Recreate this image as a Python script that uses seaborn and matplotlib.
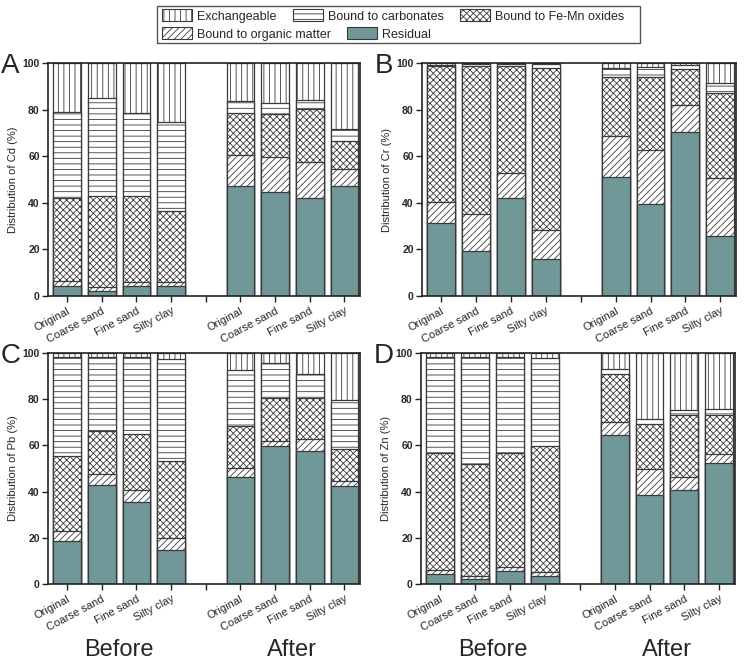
import matplotlib
matplotlib.use("Agg")
import matplotlib.pyplot as plt
import matplotlib.transforms as mtransforms
from matplotlib.patches import Patch, Rectangle
import numpy as np
import pandas as pd
import seaborn as sns

# ---------------- data (percent of each fraction) ----------------
samples = ["Original", "Coarse sand", "Fine sand", "Silty clay"]
stages = ["Before", "After"]
metals = ["Cd", "Cr", "Pb", "Zn"]
panel_letters = ["A", "B", "C", "D"]
fractions = ["Residual", "Bound to organic matter", "Bound to Fe-Mn oxides",
             "Bound to carbonates", "Exchangeable"]  # bottom -> top

# bar order: Before (Original, Coarse, Fine, Silty), After (Original, Coarse, Fine, Silty)
cd_residual = [4.3, 2.2, 4.3, 4.3, 47.3, 44.7, 42.2, 47.1]
cd_organic = [2.2, 1.5, 1.9, 1.7, 13.3, 14.8, 15.1, 7.5]
cd_femn = [35.6, 39.3, 36.6, 30.6, 18.1, 18.7, 22.9, 11.8]
cd_carbonate = [36.9, 41.9, 35.9, 38.1, 4.9, 4.6, 3.9, 5.2]
cd_exchangeable = [21.0, 15.1, 21.3, 25.3, 16.4, 17.2, 15.9, 28.4]

cr_residual = [31.5, 19.4, 41.9, 16.0, 51.2, 39.6, 70.5, 25.9]
cr_organic = [8.9, 16.0, 11.0, 12.5, 17.6, 23.0, 11.5, 24.7]
cr_femn = [58.1, 63.4, 45.9, 69.5, 25.3, 31.5, 15.5, 36.5]
cr_carbonate = [0.8, 0.7, 0.7, 1.5, 3.9, 4.3, 1.8, 4.4]
cr_exchangeable = [0.7, 0.5, 0.5, 0.5, 2.0, 1.6, 0.7, 8.5]

pb_residual = [18.4, 42.7, 35.3, 14.7, 46.3, 59.9, 57.5, 42.5]
pb_organic = [4.5, 5.1, 5.3, 5.3, 4.1, 1.9, 5.3, 2.2]
pb_femn = [32.4, 18.3, 24.5, 33.2, 18.2, 18.7, 17.9, 13.9]
pb_carbonate = [43.0, 32.2, 33.2, 44.4, 24.2, 15.3, 10.4, 20.9]
pb_exchangeable = [1.7, 1.7, 1.7, 2.4, 7.2, 4.2, 8.9, 20.5]

zn_residual = [4.3, 2.3, 5.5, 3.4, 64.3, 38.7, 40.9, 52.2]
zn_organic = [1.9, 1.0, 1.7, 1.6, 5.9, 11.3, 5.5, 3.9]
zn_femn = [50.4, 48.6, 49.6, 54.8, 20.9, 19.3, 26.9, 17.2]
zn_carbonate = [41.7, 46.4, 41.5, 38.2, 1.8, 2.2, 1.9, 2.3]
zn_exchangeable = [1.7, 1.7, 1.7, 2.0, 7.1, 28.5, 24.8, 24.4]

metal_data = {
    "Cd": [cd_residual, cd_organic, cd_femn, cd_carbonate, cd_exchangeable],
    "Cr": [cr_residual, cr_organic, cr_femn, cr_carbonate, cr_exchangeable],
    "Pb": [pb_residual, pb_organic, pb_femn, pb_carbonate, pb_exchangeable],
    "Zn": [zn_residual, zn_organic, zn_femn, zn_carbonate, zn_exchangeable],
}

# ---------------- styles ----------------
EDGE = "#3a3a3a"
RESID = "#719898"
styles = {
    "Exchangeable": dict(color="white", hatch="|||"),
    "Bound to carbonates": dict(color="white", hatch="---"),
    "Bound to Fe-Mn oxides": dict(color="white", hatch="xxxxx"),
    "Bound to organic matter": dict(color="white", hatch="/////"),
    "Residual": dict(color=RESID, hatch=None),
}

sns.set_theme(style="white")
plt.rcParams["font.family"] = ["Liberation Sans", "DejaVu Sans"]
plt.rcParams["hatch.linewidth"] = 0.6
plt.rcParams["axes.linewidth"] = 1.2

W, H = 756, 666
fig = plt.figure(figsize=(W / 100, H / 100), dpi=100)


def fx(px):
    return px / W


def fy(py):
    return 1 - py / H


axes_px = {
    "Cd": (48, 63, 360, 296),
    "Cr": (422, 63, 736, 296),
    "Pb": (48, 353, 360, 584),
    "Zn": (421, 353, 735, 584),
}

keys = ["b0", "b1", "b2", "b3", "gap", "a0", "a1", "a2", "a3"]
bar_keys = ["b0", "b1", "b2", "b3", "a0", "a1", "a2", "a3"]
tick_labels = samples + [""] + samples

for i, metal in enumerate(metals):
    l, t, r, b = axes_px[metal]
    ax = fig.add_axes([fx(l), fy(b), fx(r) - fx(l), fy(t) - fy(b)])
    comps = metal_data[metal]
    cum = np.cumsum(np.array(comps), axis=0)  # rows: bottom->top cumulative
    df = pd.DataFrame({"key": bar_keys})
    for j, fr in enumerate(fractions):
        df[fr] = cum[j]
    # draw from top layer to bottom layer so lower layers overlay
    for j in range(len(fractions) - 1, -1, -1):
        fr = fractions[j]
        st = styles[fr]
        kw = dict(data=df, x="key", y=fr, order=keys, color=st["color"],
                  saturation=1, width=0.8, errorbar=None, edgecolor=EDGE,
                  linewidth=0.9, ax=ax)
        if st["hatch"]:
            kw["hatch"] = st["hatch"]
        sns.barplot(**kw)
    ax.set_xlim(-0.55, 8.45)
    ax.set_ylim(0, 100)
    ax.set_yticks([0, 20, 40, 60, 80, 100])
    ax.set_yticklabels(["0", "20", "40", "60", "80", "100"], fontsize=7.5,
                       fontweight="bold")
    ax.set_xticks(range(9))
    ax.set_xticklabels(tick_labels, rotation=28, ha="right",
                       rotation_mode="anchor", fontsize=8)
    ax.tick_params(axis="both", direction="out", length=4, width=1,
                   color="#222222", pad=2, bottom=True, left=True)
    ax.tick_params(axis="x", pad=3)
    ax.set_xlabel("")
    ax.set_ylabel(f"Distribution of {metal} (%)", fontsize=8)
    ax.yaxis.set_label_coords(-0.095, 0.5)
    for sp in ax.spines.values():
        sp.set_visible(True)
        sp.set_color("#222222")
        sp.set_linewidth(1.2)
    # panel letter
    fig.text(fx(l - 47), fy(t + 10), panel_letters[i], fontsize=20,
             ha="left", va="baseline")
    if metal in ("Pb", "Zn"):
        trans = mtransforms.blended_transform_factory(ax.transData, fig.transFigure)
        ax.text(1.5, fy(650), stages[0], transform=trans, ha="center",
                va="center", fontsize=17)
        ax.text(6.5, fy(650), stages[1], transform=trans, ha="center",
                va="center", fontsize=17)

# ---------------- legend (two rows, one frame) ----------------
def handle(fr):
    st = styles[fr]
    return Patch(facecolor=st["color"], edgecolor=EDGE, hatch=st["hatch"],
                 linewidth=0.8, label=fr)

row1 = ["Exchangeable", "Bound to carbonates", "Bound to Fe-Mn oxides"]
row2 = ["Bound to organic matter", "Residual"]
common = dict(loc="center left", frameon=False, fontsize=9, handlelength=2.4,
              handleheight=1.1, handletextpad=0.4, columnspacing=1.3,
              borderpad=0, borderaxespad=0)
leg1 = fig.legend(handles=[handle(f) for f in row1], ncol=3,
                  bbox_to_anchor=(fx(162), fy(16)), **common)
leg2 = fig.legend(handles=[handle(f) for f in row2], ncol=2,
                  bbox_to_anchor=(fx(162), fy(34)), **common)
fig.add_artist(Rectangle((fx(157), fy(43)), fx(640) - fx(157), fy(6) - fy(43),
                         transform=fig.transFigure, fill=False,
                         edgecolor="#555555", linewidth=1.0))

fig.savefig("out.png", dpi=100)
